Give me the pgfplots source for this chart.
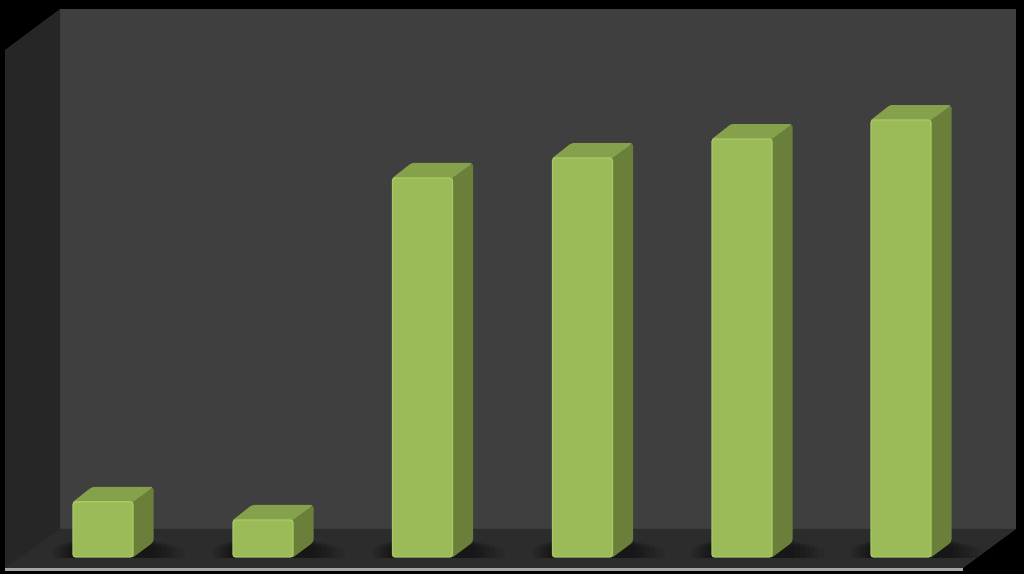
\documentclass[border=0pt]{standalone}
\usepackage{pgfplots}
\pgfplotsset{compat=1.18}
\definecolor{wall}{HTML}{3F3F3F}
\definecolor{side}{HTML}{262626}
\definecolor{floorc}{HTML}{2C2C2C}
\definecolor{front}{HTML}{9BBB59}
\definecolor{frontl}{HTML}{A8C966}
\definecolor{topc}{HTML}{86A14C}
\definecolor{sidec}{HTML}{6A7F3A}
\definecolor{linec}{HTML}{A6A6A6}
% one bar's top and side, from its centre and its value
\newcommand{\barback}[2]{%
  \pgfmathsetmacro{\xa}{#1-30}\pgfmathsetmacro{\xb}{#1+30}%
  \pgfmathsetmacro{\xc}{#1+50.5}\pgfmathsetmacro{\xd}{#1-11}%
  \pgfmathsetmacro{\yt}{#2+0.789}%
  \addplot[fill=sidec,draw=none,rounded corners=2pt] coordinates {(\xb,-0.02) (\xc,0.789) (\xc,\yt) (\xb,#2)};
  \addplot[fill=topc,draw=none,rounded corners=2pt] coordinates {(\xa,#2) (\xd,\yt) (\xc,\yt) (\xb,#2)};
}
% a soft shadow on the floor: thin nested layers
\newcommand{\shadowlayer}[3]{%
  \pgfmathsetmacro{\sa}{#1-31-#2}\pgfmathsetmacro{\sb}{#1+50+#2*1.6}%
  \pgfmathsetmacro{\sc}{0.9-#2*0.02}%
  \addplot[fill=black,fill opacity=#3,draw=none] coordinates {(\sa,-0.05) (\sa,\sc) (\sb,\sc) (\sb,-0.05)};
}
\newcommand{\barshadow}[1]{%
  \shadowlayer{#1}{20}{0.05}\shadowlayer{#1}{17}{0.06}\shadowlayer{#1}{14}{0.07}%
  \shadowlayer{#1}{11}{0.08}\shadowlayer{#1}{8}{0.09}\shadowlayer{#1}{5}{0.1}\shadowlayer{#1}{2}{0.1}%
}
\begin{document}
\begin{tikzpicture}
\begin{axis}[
  scale only axis,
  width=768pt, height=430.5pt,
  xmin=0, xmax=1024,
  ymin=-0.8947, ymax=29.3158,
  axis line style={draw=none},
  ticks=none,
  axis background/.style={fill=black},
  clip=true,
]
% back wall, side wall, floor
\addplot[fill=wall,draw=none] coordinates {(60,28.842) (1016,28.842) (1016,1.474) (60,1.474)};
\addplot[fill=side,draw=none] coordinates {(5,26.684) (60,28.842) (60,1.474) (5,-0.632)};
\addplot[fill=floorc,draw=none] coordinates {(5,-0.579) (60,1.474) (1016,1.474) (963,-0.579)};
\addplot[fill=linec,draw=none] coordinates {(5,-0.579) (963,-0.579) (963,-0.737) (5,-0.737)};
% shadows on the floor
\barshadow{103}\barshadow{263}\barshadow{422.5}\barshadow{582.5}\barshadow{742}\barshadow{901}
% tops and sides
\barback{103}{2.9}
\barback{263}{1.95}
\barback{422.5}{19.95}
\barback{582.5}{21}
\barback{742}{22}
\barback{901}{23}
% front faces
\addplot[ybar,bar width=45pt,fill=front,draw=frontl,line width=1pt,rounded corners=2pt,bar shift=0pt]
  coordinates {(103,2.9) (263,1.95) (422.5,19.95) (582.5,21) (742,22) (901,23)};
\end{axis}
\end{tikzpicture}
\end{document}
